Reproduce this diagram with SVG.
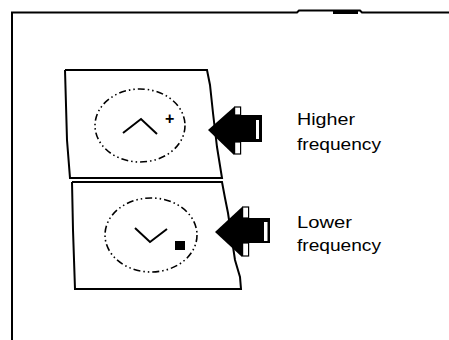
<svg xmlns="http://www.w3.org/2000/svg" width="449" height="340" viewBox="0 0 449 340">
<style>
.ln{fill:none;stroke:#000;stroke-width:2;stroke-linejoin:miter}
.dot{fill:none;stroke:#000;stroke-width:1.6;stroke-dasharray:7 3 1.5 3 1.5 3}
.sym{fill:none;stroke:#000;stroke-width:2}
.lbl{font-family:"Liberation Sans",Arial,sans-serif;font-size:16px;fill:#000}
.blk{fill:#000}
.wht{fill:#fff;stroke:#000;stroke-width:1.2}
</style>
<rect width="449" height="340" fill="#fff"/>
<g id="frame">
<polyline class="ln" points="12,340 12,12.5 297,12.5 299,10.5 360,10.5 362,12.5 449,12.5"/>
<rect x="333" y="10" width="25" height="4" class="blk"/>
</g>
<g id="upper-button">
<polyline class="ln" points="65,70 207,70 210,85 213,113 217,147 222,178 70,178 67,140 65,70"/>
<ellipse class="dot" cx="140" cy="125.5" rx="45" ry="36.5"/>
<polyline class="sym" points="123,133 141,119 157,134"/>
<text class="lbl" x="165" y="124" font-size="12" font-weight="bold">+</text>
</g>
<g id="lower-button">
<polyline class="ln" points="72,182 222,182 225,198 228,213 235,260 240,277 241,289 75,289 73,230 72,182"/>
<ellipse class="dot" cx="151" cy="235" rx="46" ry="37"/>
<polyline class="sym" points="135,228 150,242 167,229"/>
<rect x="175" y="241" width="10" height="9" class="blk"/>
</g>
<g id="connectors">
<g id="arrow-higher">
<polygon class="blk" points="208,130 234,107 234,155"/>
<rect class="blk" x="234" y="115" width="28" height="27"/>
<rect class="wht" x="234.6" y="107" width="6" height="8"/>
<rect class="wht" x="234.6" y="142" width="6" height="12"/>
<rect x="256" y="120" width="3" height="19" fill="#fff"/>
</g>
<g id="arrow-lower">
<polygon class="blk" points="215,232 242,207 242,257"/>
<rect class="blk" x="242" y="218" width="28" height="25"/>
<rect class="wht" x="242.6" y="207" width="6" height="11"/>
<rect class="wht" x="242.6" y="243" width="6" height="13"/>
<rect x="264" y="222" width="3.5" height="19" fill="#fff"/>
</g>
</g>
<g id="label-higher">
<text class="lbl" x="297" y="125" textLength="58" lengthAdjust="spacingAndGlyphs">Higher</text>
<text class="lbl" x="297" y="150" textLength="84" lengthAdjust="spacingAndGlyphs">frequency</text>
</g>
<g id="label-lower">
<text class="lbl" x="297" y="228" textLength="55" lengthAdjust="spacingAndGlyphs">Lower</text>
<text class="lbl" x="297" y="251" textLength="84" lengthAdjust="spacingAndGlyphs">frequency</text>
</g>
</svg>
